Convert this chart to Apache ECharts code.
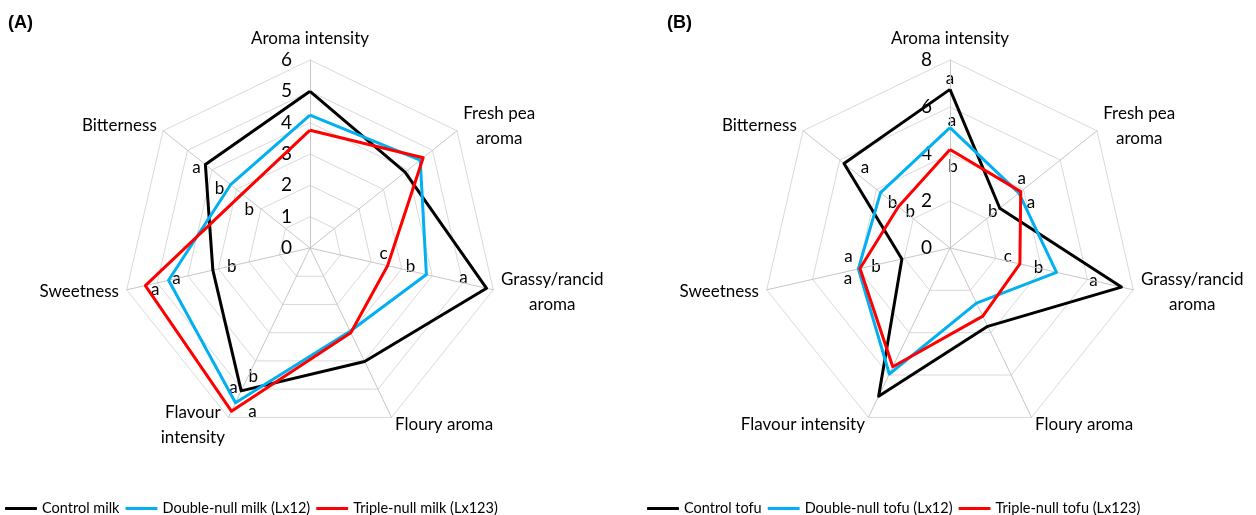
<!DOCTYPE html>
<html>
<head>
<meta charset="utf-8">
<script src="https://cdn.jsdelivr.net/npm/echarts@6/dist/echarts.min.js"></script>
<style>
  html, body { margin: 0; padding: 0; background: #fff; }
  #chart { width: 1256px; height: 515px; }
</style>
</head>
<body>
<div id="chart"></div>
<script>
// indicators listed in ECharts radar order (counterclockwise from the top)
const milkIndicators = ['Aroma intensity', 'Bitterness', 'Sweetness', 'Flavour\nintensity', 'Floury aroma', 'Grassy/rancid\naroma', 'Fresh pea\naroma']
const tofuIndicators = ['Aroma intensity', 'Bitterness', 'Sweetness', 'Flavour intensity', 'Floury aroma', 'Grassy/rancid\naroma', 'Fresh pea\naroma']

const milkNames = ['Control milk', 'Double-null milk (Lx12)', 'Triple-null milk (Lx123)']
const milkControl = [5.0, 4.27, 3.18, 5.06, 4.02, 5.78, 3.88]
const milkDouble = [4.24, 3.24, 4.63, 5.48, 2.95, 3.81, 4.5]
const milkTriple = [3.76, 2.77, 5.39, 5.78, 3.0, 2.54, 4.62]
const milkLetters = [
  ['', 'a', 'b', 'b', '', 'a', ''],
  ['', 'b', 'a', 'a', '', 'b', ''],
  ['', 'b', 'a', 'a', '', 'c', '']
]

const tofuNames = ['Control tofu', 'Double-null tofu (Lx12)', 'Triple-null tofu (Lx123)']
const tofuControl = [6.75, 5.77, 2.1, 7.0, 3.7, 7.48, 2.71]
const tofuDouble = [5.12, 3.78, 4.0, 5.95, 2.6, 4.65, 3.75]
const tofuTriple = [4.19, 2.81, 3.93, 5.61, 3.22, 3.05, 3.85]
const tofuLetters = [
  ['a', 'a', 'b', '', '', 'a', 'b'],
  ['a', 'b', 'a', '', '', 'b', 'a'],
  ['b', 'b', 'a', '', '', 'c', 'a']
]

// where each significance letter sits relative to its point (px)
const milkLetterShift = [
  [null, [-9, 3], [19, -4], [12, -14], null, [-23, -11], null],
  [null, [-11, 4], [8, -2], [-2, -15], null, [-16, -8], null],
  [null, [7, 16], [10, 4], [21, 0], null, [-4, -12], null]
]
const tofuLetterShift = [
  [[0, -11], [21, 4], [-26, 8], null, null, [-28, -7], [-7, 3]],
  [[2, -7], [12, 10], [-10, -12], null, null, [-18, -5], [12, 9]],
  [[3, 17], [12, 5], [-12, 10], null, null, [-12, -7], [1, -13]]
]

const colors = ['#000000', '#00B0F0', '#FF0000']
const font = 'Lato, "Liberation Sans", sans-serif'

function radarCfg(names, max, split, cx) {
  const r = {
    center: [cx, 248],
    radius: 188,
    startAngle: 90,
    shape: 'polygon',
    splitNumber: split,
    indicator: names.map(n => ({ name: n, min: 0, max: max })),
    axisName: {
      color: '#000',
      fontSize: 17,
      fontFamily: font,
      lineHeight: 25,
      // centre each line of a two-line name under the other
      formatter: name => name.split('\n').map(s => '{c|' + s + '}').join('\n'),
      rich: { c: { align: 'center', color: '#000', fontSize: 17, fontFamily: font, lineHeight: 25 } }
    },
    nameGap: 8,
    splitLine: { lineStyle: { color: '#d9d9d9', width: 1 } },
    splitArea: { show: false },
    axisLine: { lineStyle: { color: '#c6c6c6', width: 1 } },
    axisTick: { show: false },
    axisLabel: { show: false }
  }
  // tick numbers only along the top axis
  r.indicator[0].axisLabel = { show: true, color: '#000', fontSize: 19, fontFamily: font, showMinLabel: true, margin: 18 }
  return r
}

function seriesCfg(idx, names, lists) {
  return {
    type: 'radar',
    radarIndex: idx,
    symbol: 'none',
    silent: true,
    data: lists.map((v, i) => ({
      name: names[i],
      value: v,
      itemStyle: { color: colors[i] },
      lineStyle: { color: colors[i], width: 3 }
    }))
  }
}

function legendCfg(names, left) {
  return {
    data: names,
    left: left,
    top: 496,
    icon: 'roundRect',
    itemWidth: 32,
    itemHeight: 3,
    itemGap: 6,
    textStyle: { color: '#000', fontSize: 14.5, fontFamily: font },
    selectedMode: false
  }
}

const chart = echarts.init(document.getElementById('chart'))
chart.setOption({
  animation: false,
  title: [
    { text: '(A)', left: 3, top: 9, textStyle: { fontSize: 18, fontWeight: 'bold', fontFamily: '"Liberation Sans", Arial', color: '#000' } },
    { text: '(B)', left: 662, top: 9, textStyle: { fontSize: 18, fontWeight: 'bold', fontFamily: '"Liberation Sans", Arial', color: '#000' } }
  ],
  legend: [legendCfg(milkNames, 0), legendCfg(tofuNames, 642)],
  radar: [radarCfg(milkIndicators, 6, 6, 310), radarCfg(tofuIndicators, 8, 4, 950)],
  series: [
    seriesCfg(0, milkNames, [milkControl, milkDouble, milkTriple]),
    seriesCfg(1, tofuNames, [tofuControl, tofuDouble, tofuTriple])
  ]
})

// significance letters, positioned through the radar coordinate systems
function letterGraphics(radarIdx, lists, letters, shifts) {
  const cs = chart.getModel().getComponent('radar', radarIdx).coordinateSystem
  const out = []
  lists.forEach((vals, s) => {
    vals.forEach((v, k) => {
      if (!letters[s][k]) return
      const p = cs.dataToPoint(v, k)
      const d = shifts[s][k] || [0, 0]
      out.push({
        type: 'text',
        x: p[0] + d[0],
        y: p[1] + d[1],
        silent: true,
        style: {
          text: letters[s][k],
          fill: '#000',
          font: '17px ' + font,
          align: 'center',
          verticalAlign: 'middle'
        }
      })
    })
  })
  return out
}

chart.setOption({
  graphic: letterGraphics(0, [milkControl, milkDouble, milkTriple], milkLetters, milkLetterShift)
    .concat(letterGraphics(1, [tofuControl, tofuDouble, tofuTriple], tofuLetters, tofuLetterShift))
})
</script>
</body>
</html>
